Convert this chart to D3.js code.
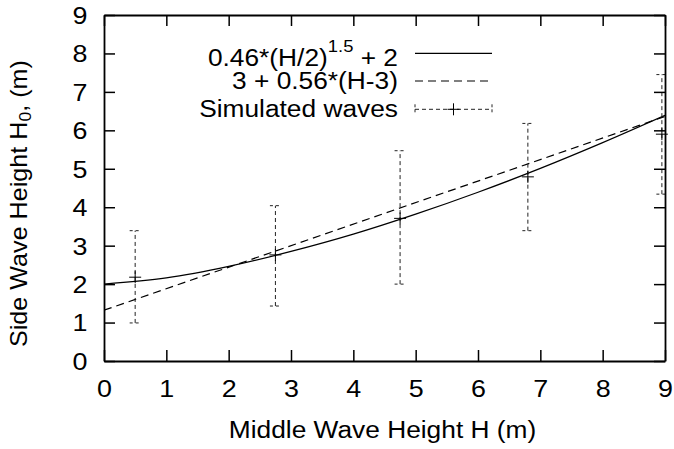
<!DOCTYPE html>
<html>
<head>
<meta charset="utf-8">
<script src="https://cdn.jsdelivr.net/npm/d3@7/dist/d3.min.js"></script>
<style>
  html, body { margin: 0; padding: 0; background: #fff; }
  svg { display: block; }
  text { font-family: "Liberation Sans", Arial, Helvetica, sans-serif; fill: #000; }
</style>
</head>
<body>
<script>
// ---- data ----
const xTicks = [0, 1, 2, 3, 4, 5, 6, 7, 8, 9];
const yTicks = [0, 1, 2, 3, 4, 5, 6, 7, 8, 9];
// Simulated waves (mean with error range)
const simH    = [0.5, 2.75, 4.75, 6.8, 8.95];
const simMean = [2.18, 2.76, 3.71, 4.79, 5.90];
const simLow  = [0.99, 1.43, 2.00, 3.39, 4.34];
const simHigh = [3.39, 4.04, 5.47, 6.18, 7.45];
// Solid curve 0.46*(H/2)^1.5 + 2
const powH   = [0, 1, 2, 3, 4, 5, 6, 7, 8, 9];
const powVal = [2.00, 2.16, 2.46, 2.85, 3.30, 3.82, 4.39, 5.01, 5.68, 6.39];
// Dashed line 3 + 0.56*(H-3)
const linH   = [0, 9];
const linVal = [1.32, 6.36];
const legendLabels = ["3 + 0.56*(H-3)", "Simulated waves"];
const xTitle = "Middle Wave Height H (m)";

(function () {
// ---- layout ----
const W = 674, HH = 449;
const pL = 104, pR = 665, pT = 15, pB = 361;
const FS = 23.5, TFS = 24, SX = 1.12;

const svg = d3.select("body").append("svg").attr("width", W).attr("height", HH);
svg.append("rect").attr("width", W).attr("height", HH).attr("fill", "#fff");

const x = d3.scaleLinear().domain([0, 9]).range([pL, pR]);
const y = d3.scaleLinear().domain([0, 9]).range([pB, pT]);

// ---- curves ----
svg.append("clipPath").attr("id", "clip").append("rect")
  .attr("x", pL).attr("y", pT).attr("width", pR - pL).attr("height", pB - pT);
const plot = svg.append("g").attr("clip-path", "url(#clip)");

const powLine = d3.line().x((d, i) => x(powH[i])).y(d => y(d)).curve(d3.curveMonotoneX);
plot.append("path").attr("d", powLine(powVal))
  .attr("fill", "none").attr("stroke", "#000").attr("stroke-width", 1.2);

const linLine = d3.line().x((d, i) => x(linH[i])).y(d => y(d));
plot.append("path").attr("d", linLine(linVal))
  .attr("fill", "none").attr("stroke", "#000").attr("stroke-width", 1.2)
  .attr("stroke-dasharray", "8,5");

// ---- error bars ----
const eb = svg.append("g").attr("stroke", "#222").attr("stroke-width", 1).attr("fill", "none");
const capW = 5.5, plusW = 6;
simH.forEach((h, i) => {
  const cx = x(h);
  eb.append("line").attr("x1", cx).attr("x2", cx).attr("y1", y(simLow[i])).attr("y2", y(simHigh[i]))
    .attr("stroke-dasharray", "4,3");
  [simLow[i], simHigh[i]].forEach(v => {
    eb.append("line").attr("x1", cx - capW).attr("x2", cx + capW).attr("y1", y(v)).attr("y2", y(v))
      .attr("stroke-dasharray", "3,3");
  });
  eb.append("line").attr("x1", cx - plusW).attr("x2", cx + plusW).attr("y1", y(simMean[i])).attr("y2", y(simMean[i]))
    .attr("stroke", "#000");
  eb.append("line").attr("x1", cx).attr("x2", cx).attr("y1", y(simMean[i]) - plusW).attr("y2", y(simMean[i]) + plusW)
    .attr("stroke", "#000");
});

// ---- axes ----
function styleAxis(g) {
  g.selectAll(".domain").attr("stroke", "#000").attr("stroke-width", 1.8);
  g.selectAll(".tick line").attr("stroke", "#000").attr("stroke-width", 1.5);
}
const gB = svg.append("g").attr("transform", `translate(0,${pB})`)
  .call(d3.axisBottom(x).tickValues(xTicks).tickSize(-11).tickSizeOuter(0).tickPadding(19).tickFormat(d3.format("d")));
const gT = svg.append("g").attr("transform", `translate(0,${pT})`)
  .call(d3.axisTop(x).tickValues(xTicks).tickSize(-11).tickSizeOuter(0).tickFormat(""));
const gL = svg.append("g").attr("transform", `translate(${pL},0)`)
  .call(d3.axisLeft(y).tickValues(yTicks).tickSize(-11).tickSizeOuter(0).tickFormat(d3.format("d")));
const gR = svg.append("g").attr("transform", `translate(${pR},0)`)
  .call(d3.axisRight(y).tickValues(yTicks).tickSize(-11).tickSizeOuter(0).tickFormat(""));
[gB, gT, gL, gR].forEach(styleAxis);
[gB, gL].forEach(g => g.attr("font-size", null).attr("font-family", null));
gB.selectAll(".tick text").style("font-size", TFS + "px").attr("transform", `scale(${SX},1)`);
gL.selectAll(".tick text").style("font-size", TFS + "px").attr("x", -16.5 / SX).attr("dy", "0.35em")
  .attr("transform", `scale(${SX},1)`);

// ---- titles ----
svg.append("text").attr("transform", `translate(382.5,438) scale(${SX},1)`)
  .attr("text-anchor", "middle").style("font-size", FS + "px").text(xTitle);

const yt = svg.append("text").attr("transform", `translate(27,347) rotate(-90) scale(1.07,1)`)
  .attr("text-anchor", "start").style("font-size", FS + "px");
yt.append("tspan").text("Side Wave Height H");
yt.append("tspan").attr("baseline-shift", "-25%").style("font-size", (FS * 0.7) + "px").text("0");
yt.append("tspan").text(", (m)");

// ---- legend ----
const lgX = 398, sx1 = 415, sx2 = 492;
const rows = [53.3, 81, 109.3];
const l1 = svg.append("text").attr("transform", `translate(${lgX},65.5) scale(${SX},1)`)
  .attr("text-anchor", "end").style("font-size", FS + "px");
l1.append("tspan").text("0.46*(H/2)");
l1.append("tspan").attr("dy", -14).style("font-size", (FS * 0.7) + "px").text("1.5");
l1.append("tspan").attr("dy", 14).text(" + 2");
svg.append("text").attr("transform", `translate(${lgX},89) scale(${SX},1)`)
  .attr("text-anchor", "end").style("font-size", FS + "px").text(legendLabels[0]);
svg.append("text").attr("transform", `translate(${lgX},117) scale(${SX},1)`)
  .attr("text-anchor", "end").style("font-size", FS + "px").text(legendLabels[1]);

svg.append("line").attr("x1", sx1).attr("x2", sx2).attr("y1", rows[0]).attr("y2", rows[0])
  .attr("stroke", "#000").attr("stroke-width", 1.2);
svg.append("line").attr("x1", sx1).attr("x2", sx2).attr("y1", rows[1]).attr("y2", rows[1])
  .attr("stroke", "#000").attr("stroke-width", 1.2).attr("stroke-dasharray", "8,5");
const lg3 = svg.append("g").attr("stroke", "#222").attr("stroke-width", 1);
lg3.append("line").attr("x1", sx1).attr("x2", sx2).attr("y1", rows[2]).attr("y2", rows[2]).attr("stroke-dasharray", "4,3");
[sx1, sx2].forEach(sx => lg3.append("line").attr("x1", sx).attr("x2", sx)
  .attr("y1", rows[2] - 5).attr("y2", rows[2] + 5).attr("stroke-dasharray", "3,2"));
const mx = (sx1 + sx2) / 2;
lg3.append("line").attr("x1", mx - plusW).attr("x2", mx + plusW).attr("y1", rows[2]).attr("y2", rows[2]).attr("stroke", "#000");
lg3.append("line").attr("x1", mx).attr("x2", mx).attr("y1", rows[2] - plusW).attr("y2", rows[2] + plusW).attr("stroke", "#000");
})();
</script>
</body>
</html>
